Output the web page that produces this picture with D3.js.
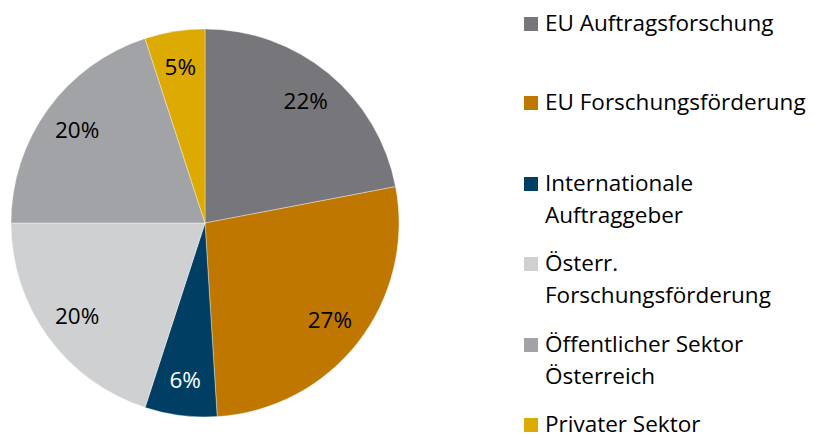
<!DOCTYPE html>
<html><head><meta charset="utf-8">
<script src="https://cdn.jsdelivr.net/npm/d3@7"></script>
<style>html,body{margin:0;padding:0;background:#fff;}svg{display:block;}</style>
</head><body>
<svg id="chart" width="814" height="434"></svg>
<script>
const categories = ["EU Auftragsforschung","EU Forschungsförderung","Internationale Auftraggeber","Österr. Forschungsförderung","Öffentlicher Sektor Österreich","Privater Sektor"];
const legendLines = [["EU Auftragsforschung"],["EU Forschungsförderung"],["Internationale","Auftraggeber"],["Österr.","Forschungsförderung"],["Öffentlicher Sektor","Österreich"],["Privater Sektor"]];
const values = [22,27,6,20,20,5];
const colors = ["#77767b","#bf7700","#003f63","#cfd0d2","#a2a3a7","#dcaa00"];
const labelColors = ["#000","#000","#fff","#000","#000","#000"];

const svg = d3.select("#chart");
const cx = 205, cy = 223, r = 194, lr = 158;
const fontFam = "'Open Sans', Lato, sans-serif";
const pie = d3.pie().sort(null).value(d=>d)(values);
const arc = d3.arc().innerRadius(0).outerRadius(r);
const larc = d3.arc().innerRadius(lr).outerRadius(lr);
const g = svg.append("g").attr("transform",`translate(${cx},${cy})`);
g.selectAll("path").data(pie).join("path")
  .attr("d",arc).attr("fill",(d,i)=>colors[i])
  .attr("stroke","#fff").attr("stroke-width",0.6).attr("stroke-opacity",0.6);
g.selectAll("text").data(pie).join("text")
  .attr("transform",d=>`translate(${larc.centroid(d)})`)
  .attr("text-anchor","middle").attr("dy","0.35em")
  .attr("font-family",fontFam).attr("font-size",22.5)
  .attr("fill",(d,i)=>labelColors[i])
  .text(d=>d.data+"%");

const lg = svg.append("g");
const rowY = [17,96,177,257,338,418];
legendLines.forEach((lines,i)=>{
  lg.append("rect").attr("x",524).attr("y",rowY[i]).attr("width",14).attr("height",14).attr("fill",colors[i]);
  lines.forEach((t,j)=>{
    lg.append("text").attr("x",545).attr("y",rowY[i]+14+j*32)
      .attr("font-family",fontFam).attr("font-size",22.5).attr("fill","#000").text(t);
  });
});
</script>
</body></html>
